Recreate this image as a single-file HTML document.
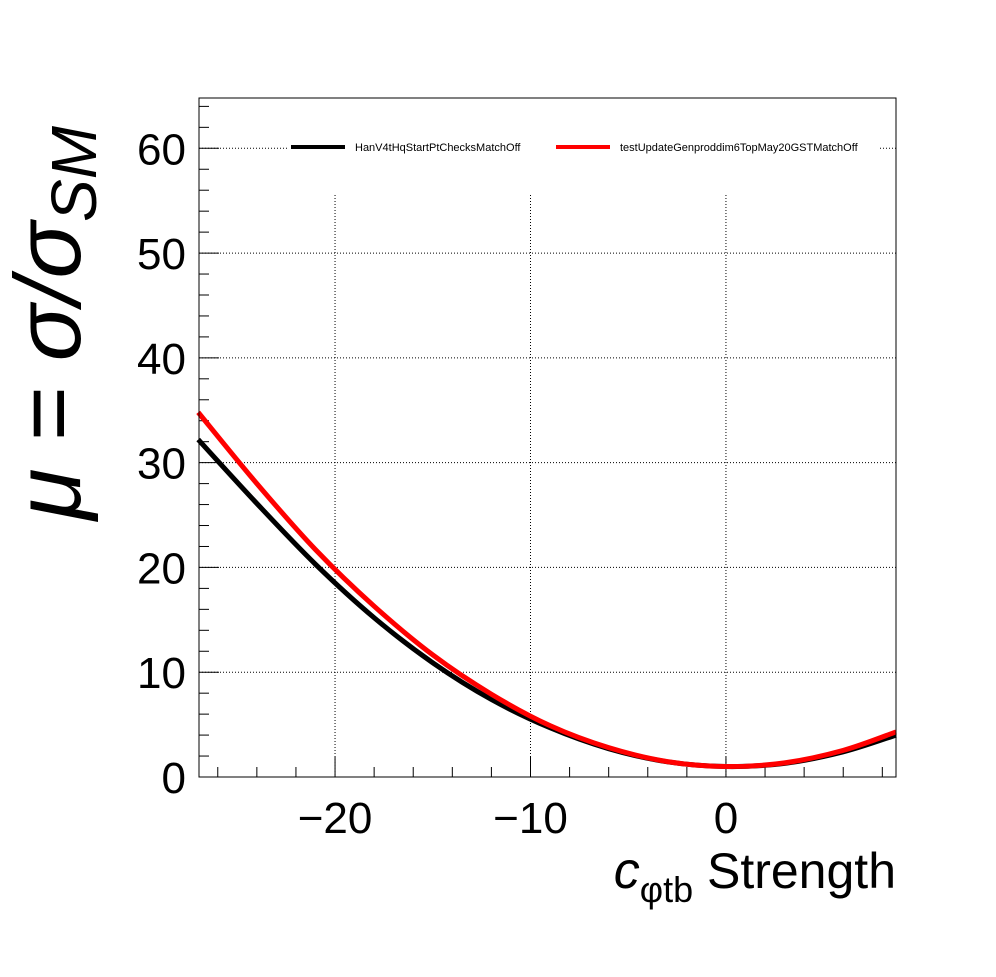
<!DOCTYPE html>
<html><head><meta charset="utf-8"><style>
body{margin:0;background:#fff}
svg text{font-family:"Liberation Sans",sans-serif}
</style></head><body>
<svg id="c" width="996" height="972" xmlns="http://www.w3.org/2000/svg">
<rect width="996" height="972" fill="#fff"/>
<g id="grid"></g>
<g id="axes"></g>
<g id="series"></g>
<rect x="199" y="98" width="697" height="679" fill="none" stroke="#000" stroke-width="1"/>
<g>
<rect x="288" y="138" width="590" height="20" fill="#fff"/>
<line x1="291" y1="147" x2="345" y2="147" stroke="#000" stroke-width="4"/>
<text x="355" y="151" font-size="11">HanV4tHqStartPtChecksMatchOff</text>
<line x1="556" y1="147" x2="610" y2="147" stroke="#f00" stroke-width="4"/>
<text x="620" y="151" font-size="11">testUpdateGenproddim6TopMay20GSTMatchOff</text>
</g>
<text transform="translate(80,520) rotate(-90)" font-size="94" font-style="italic">μ = σ/σ<tspan font-size="64" dy="16">SM</tspan></text>
<text x="896" y="888" text-anchor="end" font-size="50"><tspan font-style="italic" font-size="52">c</tspan><tspan font-size="36" dy="14">φtb</tspan><tspan dy="-14"> Strength</tspan></text>
</svg>
<script>
const xVals=[-27,-24,-21,-18,-15,-12,-9,-6,-3,0,3,6,8.7];
const blackVals=[32.2,26.1,20.3,15.2,10.9,7.4,4.7,2.7,1.45,1,1.3,2.4,4.0];
const redVals=[34.8,28.0,21.7,16.3,11.65,7.9,4.9,2.8,1.47,1,1.35,2.54,4.3];
const xTicks=[-20,-10,0];
const xTickLabels=["\u221220","\u221210","0"];
const yTicks=[0,10,20,30,40,50,60];
const yTickLabels=["0","10","20","30","40","50","60"];
const X0=199,X1=896,Y0=777,Y1=98,xmin=-26.96,xmax=8.7,ymin=0,ymax=64.8;
const sx=v=>X0+(v-xmin)/(xmax-xmin)*(X1-X0);
const sy=v=>Y0-(v-ymin)/(ymax-ymin)*(Y0-Y1);
const NS="http://www.w3.org/2000/svg";
function mk(tag,attrs,parent){const e=document.createElementNS(NS,tag);for(const k in attrs)e.setAttribute(k,attrs[k]);document.getElementById(parent).appendChild(e);return e;}
yTicks.forEach((t,i)=>{
 if(t>0){const g=mk('line',{x1:X0,x2:X1,y1:sy(t),y2:sy(t),stroke:'#000','stroke-width':1,'stroke-dasharray':'1,2'},'grid');
 
 }
 const tk=mk('line',{x1:X0,x2:X0+20,y1:sy(t),y2:sy(t),stroke:'#000'},'axes');
 
 
 const tx=mk('text',{x:186,y:sy(t)+16,'text-anchor':'end','font-size':44},'axes');
 tx.textContent=yTickLabels[i];
 
 
});
for(let v=0;v<=64;v+=2){if(v%10){const m=mk('line',{x1:X0,x2:X0+10,y1:sy(v),y2:sy(v),stroke:'#000'},'axes');
 
 }}
xTicks.forEach((t,i)=>{
 const g=mk('line',{x1:sx(t),x2:sx(t),y1:195,y2:Y0,stroke:'#000','stroke-width':1,'stroke-dasharray':'1,2'},'grid');
 
 
 const tk=mk('line',{x1:sx(t),x2:sx(t),y1:Y0,y2:Y0-20,stroke:'#000'},'axes');
 
 
 const tx=mk('text',{x:sx(t),y:833,'text-anchor':'middle','font-size':44},'axes');
 tx.textContent=xTickLabels[i];
 
 
});
for(let v=-26;v<=8;v+=2){if(v%10){const m=mk('line',{x1:sx(v),x2:sx(v),y1:Y0,y2:Y0-10,stroke:'#000'},'axes');
 
 }}
function smooth(xs,ys){const p=xs.map((x,i)=>[sx(x),sy(ys[i])]);let d='M'+p[0][0]+','+p[0][1];
 for(let i=0;i<p.length-1;i++){const a=p[i-1]||p[i],b=p[i],c=p[i+1],e=p[i+2]||c;
 d+=` C${b[0]+(c[0]-a[0])/6},${b[1]+(c[1]-a[1])/6} ${c[0]-(e[0]-b[0])/6},${c[1]-(e[1]-b[1])/6} ${c[0]},${c[1]}`;}return d;}
const lb=mk('path',{d:smooth(xVals,blackVals),fill:'none',stroke:'#000','stroke-width':5},'series');


const lr=mk('path',{d:smooth(xVals,redVals),fill:'none',stroke:'#f00','stroke-width':5},'series');


</script>
</body></html>
